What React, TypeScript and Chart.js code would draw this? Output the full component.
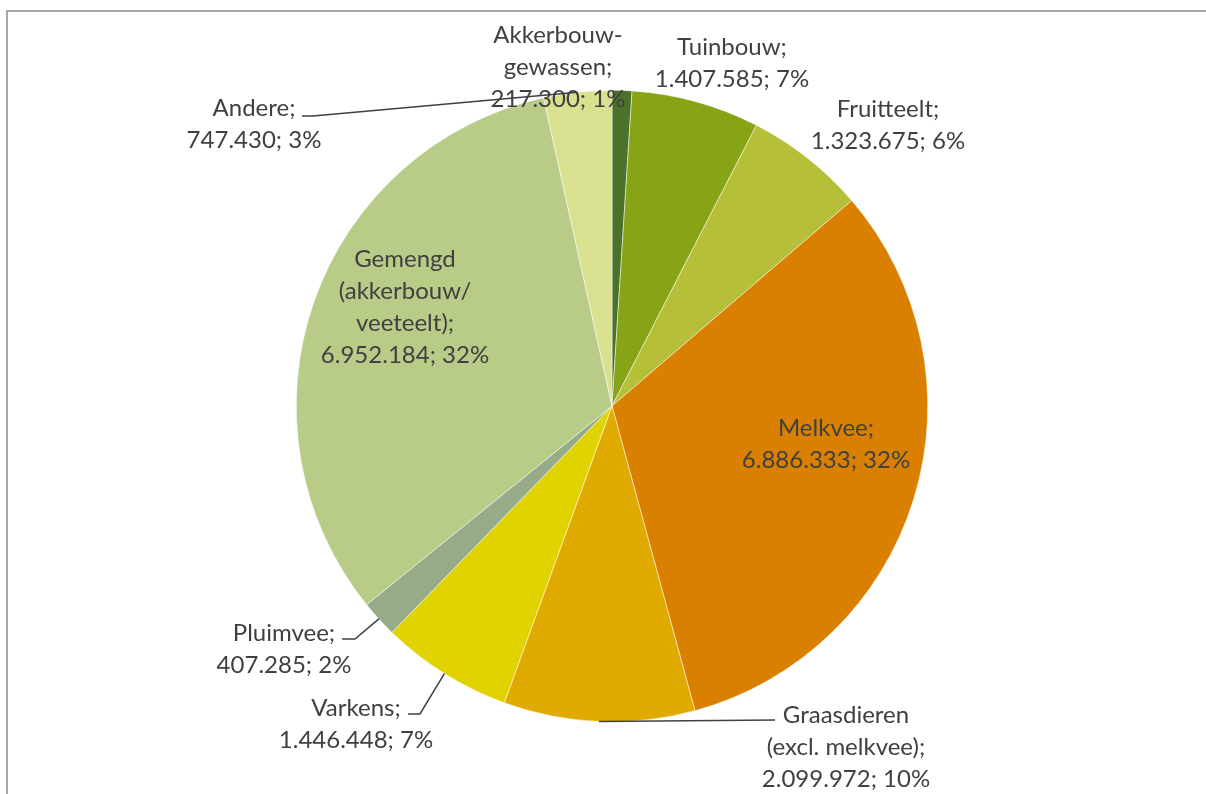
import React, { useEffect, useRef } from "react";
import { Chart, registerables } from "chart.js";

Chart.register(...registerables);

const categories = [
  ["Akkerbouw-", "gewassen;"],
  ["Tuinbouw;"],
  ["Fruitteelt;"],
  ["Melkvee;"],
  ["Graasdieren", "(excl. melkvee);"],
  ["Varkens;"],
  ["Pluimvee;"],
  ["Gemengd", "(akkerbouw/", "veeteelt);"],
  ["Andere;"],
];
const values = [217300, 1407585, 1323675, 6886333, 2099972, 1446448, 407285, 6952184, 747430];
const valueLabels = ["217.300", "1.407.585", "1.323.675", "6.886.333", "2.099.972", "1.446.448", "407.285", "6.952.184", "747.430"];
const percentLabels = ["1%", "7%", "6%", "32%", "10%", "7%", "2%", "32%", "3%"];
const colors = ["#4a7229", "#87a316", "#b5bf38", "#d98000", "#e0aa00", "#e0d300", "#97ab89", "#b8cb87", "#d9e190"];

// label layout: center x, first-line center y, leader: null or [hx0, hx1, hy]
const labelLayout: { x: number; y: number; leader: number[] | null }[] = [
  { x: 558, y: 35, leader: null },
  { x: 732, y: 47, leader: null },
  { x: 888, y: 109, leader: null },
  { x: 826, y: 428, leader: null },
  { x: 846, y: 715, leader: [775, 775, 720] },
  { x: 356, y: 708, leader: [408, 420, 714] },
  { x: 284, y: 633, leader: [342, 355, 639] },
  { x: 405, y: 259, leader: null },
  { x: 254, y: 108, leader: [302, 313, 116] },
];

const LINE_H = 32;

const labelPlugin = {
  id: "pieLabels",
  afterDatasetsDraw(chart: any) {
    const ctx = chart.ctx;
    const meta = chart.getDatasetMeta(0);
    ctx.save();
    ctx.font = "24px Lato";
    ctx.fillStyle = "#404040";
    ctx.textAlign = "center";
    ctx.textBaseline = "middle";
    meta.data.forEach((arc: any, i: number) => {
      const lay = labelLayout[i];
      const lines = [...categories[i]];
      lines.push(valueLabels[i] + "; " + percentLabels[i]);
      if (lay.leader) {
        const mid = (arc.startAngle + arc.endAngle) / 2;
        const px = arc.x + Math.cos(mid) * arc.outerRadius;
        const py = arc.y + Math.sin(mid) * arc.outerRadius;
        const [hx0, hx1, hy] = lay.leader;
        ctx.strokeStyle = "#404040";
        ctx.lineWidth = 1.5;
        ctx.beginPath();
        ctx.moveTo(hx0, hy);
        ctx.lineTo(hx1, hy);
        ctx.lineTo(px, py);
        ctx.stroke();
      }
      lines.forEach((t, k) => ctx.fillText(t, lay.x, lay.y + k * LINE_H));
    });
    ctx.restore();
  },
};

const framePlugin = {
  id: "frame",
  beforeDraw(chart: any) {
    const ctx = chart.ctx;
    ctx.save();
    ctx.fillStyle = "#ffffff";
    ctx.fillRect(0, 0, chart.width, chart.height);
    ctx.strokeStyle = "#8c8c8c";
    ctx.lineWidth = 1.5;
    ctx.beginPath();
    ctx.moveTo(7, chart.height + 5);
    ctx.lineTo(7, 11);
    ctx.lineTo(chart.width + 5, 11);
    ctx.stroke();
    ctx.restore();
  },
};

export default function App() {
  const ref = useRef<HTMLCanvasElement>(null);
  useEffect(() => {
    if (!ref.current) return;
    const chart = new Chart(ref.current, {
      type: "pie",
      data: {
        labels: categories.map((c) => c.join(" ")),
        datasets: [
          {
            data: values,
            backgroundColor: colors,
            borderColor: "#ffffff",
            borderWidth: 0.5,
          },
        ],
      },
      options: {
        animation: false,
        responsive: false,
        maintainAspectRatio: false,
        layout: { padding: { top: 90, bottom: 72, left: 296, right: 278 } },
        plugins: { legend: { display: false }, tooltip: { enabled: false } },
      },
      plugins: [framePlugin, labelPlugin],
    });
    return () => chart.destroy();
  }, []);
  return (
    <div style={{ position: "fixed", left: 0, top: 0, width: 1206, height: 794, background: "#fff" }}>
      <canvas ref={ref} width={1206} height={794} style={{ display: "block" }} />
    </div>
  );
}
